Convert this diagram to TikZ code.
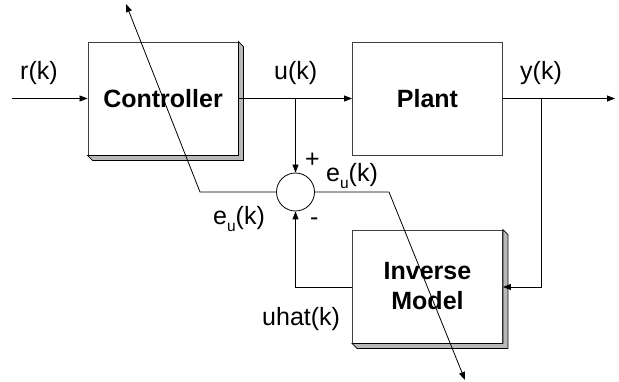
\documentclass[tikz,border=0pt]{standalone}
\usepackage{fontspec}
\setmainfont{Liberation Sans}
\usetikzlibrary{arrows.meta,calc}
\newcommand\subu{\raisebox{-7pt}{\fontsize{15.5}{15.5}\selectfont u}}
\newcommand\extrude[1]{%
  \filldraw[fill=black!28,draw=black,line width=0.8pt]
    (#1.north east) -- ++(5,5) -- ($(#1.south east)+(5,5)$) -- ($(#1.south west)+(5,5)$)
    -- (#1.south west) -- (#1.south east) -- cycle;}
\begin{document}
\begin{tikzpicture}[x=1pt,y=-1pt,
  blk/.style={draw=black!75,line width=0.9pt,fill=white,minimum width=150pt,minimum height=113pt,inner sep=0pt,font=\fontsize{25}{30}\selectfont\bfseries,align=center},
  btxt/.style={font=\fontsize{25}{30}\selectfont\bfseries,align=center,inner sep=0pt},
  lbl/.style={font=\fontsize{25}{30}\selectfont,inner sep=0pt,anchor=base west},
  wire/.style={line width=0.8pt,draw=black},
  arr/.style={wire,-{Triangle[length=8pt,width=6pt]}}]
\useasboundingbox (0,0) rectangle (619,382);
% boxes
\node[blk] (ctrl) at (163,98.5) {};
\extrude{ctrl}
\node[btxt] (ctrltxt) at (163,98.5) {Controller};
\node[blk] (plant) at (427.5,98.5) {Plant};
\node[blk] (inv) at (427.5,286.5) {};
\extrude{inv}
\node[btxt] (invtxt) at (427.5,286) {Inverse\\Model};
% summing junction
\node[draw=black,line width=0.8pt,circle,minimum size=38pt,inner sep=0pt,fill=white] (sum) at (295.5,192) {};
% coordinates
\coordinate (rin) at (12,98.5);
\coordinate (yout) at (615,98.5);
\coordinate (ub) at (295.5,98.5);
\coordinate (yb) at (541,98.5);
\coordinate (ycorner) at (541,287);
\coordinate (ucorner) at (295.5,287);
\coordinate (lk) at (200,192);
\coordinate (ltip) at (126,4);
\coordinate (rk) at (389,192);
\coordinate (rtip) at (465,380);
% wires
\draw[arr] (rin) -- (ctrl.west);
\draw[arr] (ctrl.east) -- (plant.west);
\draw[arr] (plant.east) -- (yout);
\draw[arr] (ub) -- (sum.north);
\draw[arr] (yb) -- (ycorner) -- (ycorner -| inv.east);
\draw[arr] (ucorner -| inv.west) -- (ucorner) -- (sum.south);
\draw[arr] (sum.west) -- (lk) -- (ltip);
\draw[arr] (sum.east) -- (rk) -- (rtip);
% labels
\node[lbl] (lr) at (20,80) {r(k)};
\node[lbl] (lu) at (274,80) {u(k)};
\node[lbl] (ly) at (520,80) {y(k)};
\node[lbl] (lplus) at (305,168) {+};
\node[lbl] (leur) at (326,182) {e\subu(k)};
\node[lbl] (leul) at (213,225) {e\subu(k)};
\node[lbl] (lminus) at (310,226) {-};
\node[lbl] (luhat) at (262,326) {uhat(k)};
\end{tikzpicture}
\end{document}
